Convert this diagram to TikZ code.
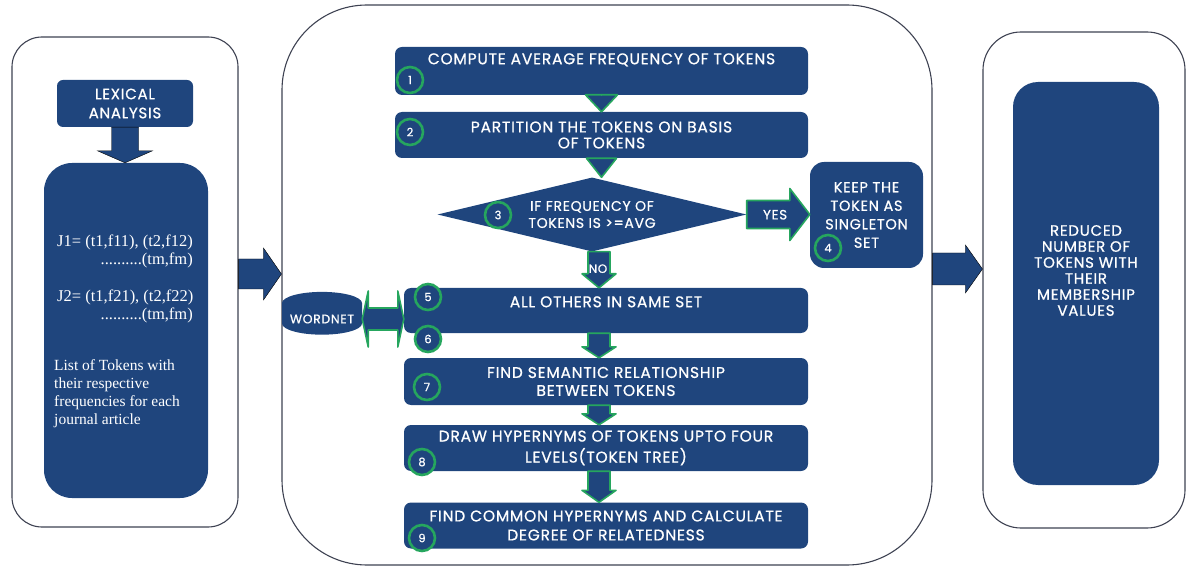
\documentclass[tikz,border=0pt]{standalone}
\usepackage{fontspec}
\setmainfont{Liberation Serif}
\newfontfamily\stepfont[LetterSpace=5,FakeBold=0.7]{Poppins}
\usetikzlibrary{shapes.geometric,calc,positioning}
\definecolor{navy}{RGB}{31,69,125}
\definecolor{leaf}{RGB}{38,166,94}
\definecolor{frame}{RGB}{62,66,82}
% style, from, to, shaft half width, head half width, head length
\newcommand{\blockdown}[6]{\draw[#1] let \p1=(#2), \p2=(#3) in
	(\x1-#4,\y1) -- (\x1+#4,\y1) -- (\x1+#4,\y2+#6) -- (\x1+#5,\y2+#6)
	-- (\x1,\y2) -- (\x1-#5,\y2+#6) -- (\x1-#4,\y2+#6) -- cycle;}
\newcommand{\blockright}[6]{\draw[#1] let \p1=(#2), \p2=(#3) in
	(\x1,\y1+#4) -- (\x2-#6,\y1+#4) -- (\x2-#6,\y1+#5) -- (\x2,\y1)
	-- (\x2-#6,\y1-#5) -- (\x2-#6,\y1-#4) -- (\x1,\y1-#4) -- cycle;}
\newcommand{\blockboth}[2]{\draw[blockarrow] let \p1=(#1), \p2=(#2) in
	(\x1,\y1) -- (\x1+6pt,\y1+28pt) -- (\x1+6pt,\y1+11pt) -- (\x2-6pt,\y1+11pt)
	-- (\x2-6pt,\y1+28pt) -- (\x2,\y1) -- (\x2-6pt,\y1-28pt) -- (\x2-6pt,\y1-11pt)
	-- (\x1+6pt,\y1-11pt) -- (\x1+6pt,\y1-28pt) -- cycle;}
\tikzset{
	outerbox/.style={draw=frame, line width=1.1pt},
	navybox/.style={fill=navy, text=white, align=center, inner sep=0pt,
		font=\stepfont\fontsize{15.5}{18}\selectfont},
	stepbox/.style={navybox, rounded corners=7pt, minimum width=404pt, minimum height=46pt},
	steptext/.style={text=white, inner sep=0pt, font=\stepfont\fontsize{15.5}{18}\selectfont},
	numcirc/.style={circle, fill=navy, draw=leaf, line width=2.6pt, text=white,
		minimum size=26pt, inner sep=0pt, font=\stepfont\fontsize{11.5}{11.5}\selectfont},
	blockarrow/.style={fill=navy, draw=leaf, line width=1.6pt, line join=round},
	bigarrow/.style={fill=navy},
	serif/.style={text=white, inner sep=0pt, font=\fontsize{16.5}{18}\selectfont}
}

\begin{document}
\begin{tikzpicture}[x=1pt,y=-1pt]

	\useasboundingbox (0,0) rectangle (1186,569);

	% left panel
	\node[outerbox, rounded corners=30pt, minimum width=226pt, minimum height=490pt] (lout) at (125,282) {};
	\node[navybox, rounded corners=6pt, minimum width=136pt, minimum height=47pt,
		font=\stepfont\fontsize{15}{19}\selectfont] (lex) at (125,103.5) {LEXICAL\\ANALYSIS};
	\node[navybox, rounded corners=28pt, minimum width=164pt, minimum height=335pt] (list) at (126,330.5) {};
	\node[serif, anchor=west] (j1) at (57,242) {J1= (t1,f11), (t2,f12)};
	\node[serif, anchor=east] (j1m) at (193,260) {..........(tm,fm)};
	\node[serif, anchor=west] (j2) at (57,297) {J2= (t1,f21), (t2,f22)};
	\node[serif, anchor=east] (j2m) at (193,315) {..........(tm,fm)};
	\node[serif, anchor=north west, align=left, font=\fontsize{15.5}{18}\selectfont] (tok) at (54,359)
		{List of Tokens with\\their respective\\frequencies for each\\journal article};
	\blockdown{bigarrow}{lex.south}{list.north}{13.5pt}{27.5pt}{12pt}

	% middle panel
	\node[outerbox, rounded corners=85pt, minimum width=650pt, minimum height=560pt] (mid) at (607,285) {};
	\blockright{bigarrow}{[yshift=8pt]lout.east}{mid.west}{15pt}{26pt}{18pt}

	\node[stepbox, minimum width=413pt, minimum height=48pt] (b1) at (601.5,71) {};
	\node[steptext] (t1) at ($(b1.north)+(0,13)$) {COMPUTE AVERAGE FREQUENCY OF TOKENS};
	\node[stepbox, minimum width=413pt, font=\stepfont\fontsize{15.5}{16}\selectfont] (b2) at (601.5,135) {PARTITION THE TOKENS ON BASIS\\OF TOKENS};
	\node[navybox, diamond, aspect=4.2, minimum width=309pt, minimum height=74pt,
		font=\stepfont\fontsize{14}{17}\selectfont] (d3) at (592,214.5) {IF FREQUENCY OF\\TOKENS IS >=AVG};
	\node[navybox, rounded corners=14pt, minimum width=113pt, minimum height=106pt,
		font=\stepfont\fontsize{14.5}{18.5}\selectfont] (keep) at (866.5,215) {KEEP THE\\TOKEN AS\\SINGLETON\\SET};
	\node[stepbox, minimum height=45pt] (b5) at (606,310.5) {};
	\node[steptext] (t5) at ($(b5.north)+(0,14)$) {ALL OTHERS IN SAME SET};
	\node[stepbox, minimum height=47pt] (b7) at (606,381.5) {FIND SEMANTIC RELATIONSHIP\\BETWEEN TOKENS};
	\node[stepbox, font=\stepfont\fontsize{15.5}{21}\selectfont] (b8) at (606,448) {DRAW HYPERNYMS OF TOKENS UPTO FOUR\\LEVELS(TOKEN TREE)};
	\node[stepbox, font=\stepfont\fontsize{15.5}{19}\selectfont] (b9) at (606,525.5) {FIND COMMON HYPERNYMS AND CALCULATE\\DEGREE OF RELATEDNESS};
	\node[cylinder, shape border rotate=90, aspect=0.35, fill=navy, minimum width=80pt, minimum height=37pt,
		text=white, inner sep=0pt, font=\stepfont\fontsize{12.5}{12.5}\selectfont] (wn) at (322,319) {WORDNET};

	\blockdown{blockarrow}{b1.south}{b2.north}{0pt}{16pt}{17pt}
	\blockdown{blockarrow}{b2.south}{d3.north}{0pt}{15pt}{19pt}
	\blockdown{blockarrow}{[xshift=7pt]d3.south}{b5.north}{11pt}{17pt}{14pt}
	\node[text=white, font=\stepfont\fontsize{12}{12}\selectfont, inner sep=0pt] (no) at ($(d3.south)+(6,17)$) {NO};
	\blockright{blockarrow}{d3.east}{keep.west}{14pt}{26pt}{20pt}
	\path (d3.east) -- (keep.west) node[pos=0.45, text=white, inner sep=0pt,
		font=\stepfont\fontsize{13.5}{13.5}\selectfont] (yes) {YES};
	\blockboth{wn.east}{b5.west}
	\blockdown{blockarrow}{[xshift=-7pt]b5.south}{b7.north}{11pt}{17pt}{11pt}
	\blockdown{blockarrow}{[xshift=-7pt]b7.south}{b8.north}{11pt}{17pt}{11pt}
	\blockdown{blockarrow}{[xshift=-7pt]b8.south}{b9.north}{11pt}{17pt}{12pt}

	\node[numcirc] (c1) at (410,80) {1};
	\node[numcirc] (c2) at (410,132) {2};
	\node[numcirc] (c3) at (498,215) {3};
	\node[numcirc] (c4) at (828,248) {4};
	\node[numcirc] (c5) at (428,297) {5};
	\node[numcirc] (c6) at (428,339) {6};
	\node[numcirc] (c7) at (427,387) {7};
	\node[numcirc] (c8) at (422,462) {8};
	\node[numcirc] (c9) at (422,538) {9};

	% right panel
	\node[outerbox, rounded corners=38pt, minimum width=202pt, minimum height=496pt] (rout) at (1084,280) {};
	\node[navybox, rounded corners=25pt, minimum width=146pt, minimum height=403pt] (result) at (1086,283.5) {};
	\node[steptext, align=center, font=\stepfont\fontsize{15}{16}\selectfont] (rtext) at ($(result.center)+(0,-13)$)
		{REDUCED\\NUMBER OF\\TOKENS WITH\\THEIR\\MEMBERSHIP\\VALUES};
	\blockright{bigarrow}{[yshift=16pt]mid.east}{rout.west}{16pt}{24pt}{17pt}

\end{tikzpicture}
\end{document}
